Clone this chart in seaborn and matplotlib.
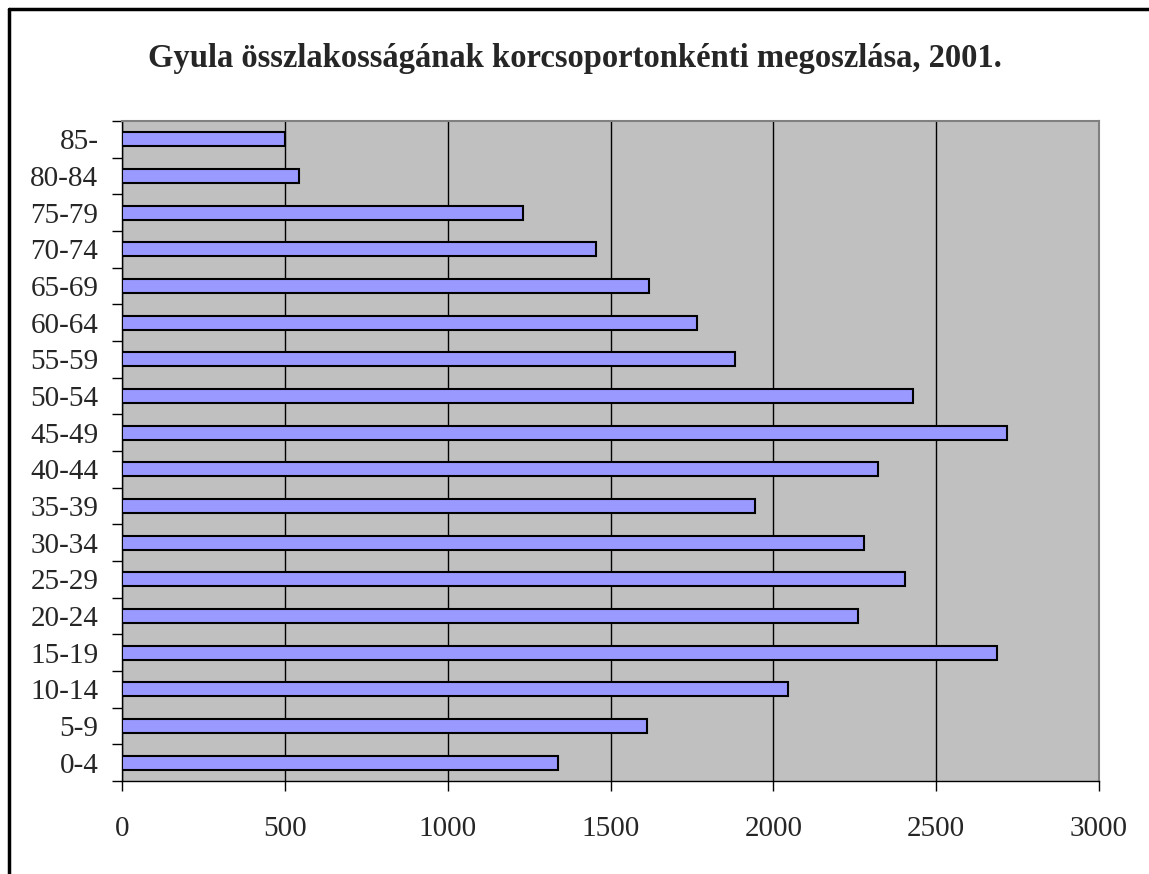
import pandas as pd
import seaborn as sns
import matplotlib.pyplot as plt
from matplotlib.lines import Line2D
from matplotlib.ticker import FixedLocator

# Age groups and population
age_groups = ['0-4', '5-9', '10-14', '15-19', '20-24', '25-29', '30-34', '35-39', '40-44',
              '45-49', '50-54', '55-59', '60-64', '65-69', '70-74', '75-79', '80-84', '85-']
population = [1339, 1612, 2045, 2686, 2260, 2404, 2278, 1943, 2321,
              2717, 2429, 1882, 1765, 1618, 1455, 1231, 543, 500]

df = pd.DataFrame({'age': age_groups, 'pop': population})
order = age_groups[::-1]

sns.set_style('white')
plt.rcParams['font.family'] = ['Liberation Serif', 'DejaVu Serif']

W, H = 1149, 874
fig = plt.figure(figsize=(W / 100, H / 100), dpi=100)
ax = fig.add_axes([122 / W, 1 - 781 / H, (1099 - 122) / W, (781 - 121) / H])

sns.barplot(data=df, x='pop', y='age', order=order, orient='h', ax=ax,
            color='#9999FF', edgecolor='black', linewidth=1.5, width=0.38,
            saturation=1, zorder=3)

ax.set_facecolor('#C0C0C0')
ax.set_xlim(0, 3000)
ax.set_ylim(len(order) - 0.5, -0.5)
ax.set_xticks(range(0, 3001, 500))
ax.xaxis.grid(True, color='black', linewidth=1)
ax.set_axisbelow(True)
ax.set_xlabel('')
ax.set_ylabel('')

# y ticks at category boundaries
ax.yaxis.set_minor_locator(FixedLocator([i - 0.5 for i in range(len(order) + 1)]))
ax.tick_params(axis='y', which='major', length=0, labelsize=21, pad=17)
ax.tick_params(axis='y', which='minor', length=7, width=1, color='black', left=True)
ax.tick_params(axis='x', which='major', length=7, width=1, color='black', bottom=True,
               labelsize=21, pad=18)

for side in ['left', 'bottom']:
    ax.spines[side].set_color('black')
    ax.spines[side].set_linewidth(1)
for side in ['top', 'right']:
    ax.spines[side].set_color('#808080')
    ax.spines[side].set_linewidth(1.5)

fig.text(0.5, 1 - 67 / H, 'Gyula összlakosságának korcsoportonkénti megoszlása, 2001.',
         ha='center', va='baseline', fontsize=23.5, fontweight='bold')

# border (top and left edges visible)
fig.add_artist(Line2D([9 / W, 1], [1 - 9 / H, 1 - 9 / H], color='black', linewidth=2.5))
fig.add_artist(Line2D([9 / W, 9 / W], [0, 1 - 9 / H], color='black', linewidth=2.5))

plt.savefig('out.png', dpi=100)
